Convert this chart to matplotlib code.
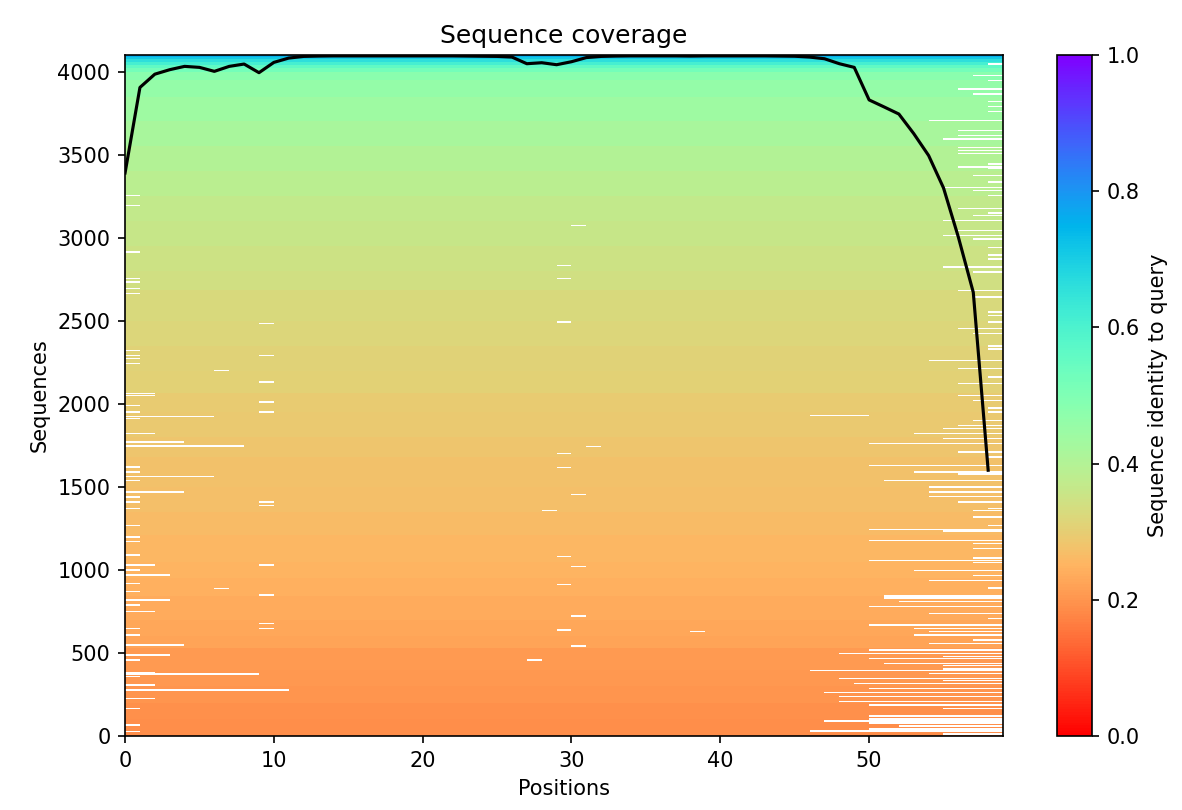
import numpy as np
import matplotlib
matplotlib.use("Agg")
import matplotlib.pyplot as plt

# number of aligned sequences and query length
n_seqs = 4100
n_pos = 59

# identity to query, per block of sorted sequences (block start, identity)
band_start = [0, 100, 200, 300, 400, 530, 600, 700, 840, 950, 1050, 1210, 1350,
              1500, 1680, 1800, 1950, 2065, 2200, 2350, 2500, 2685, 2800, 2950,
              3100, 3250, 3400, 3550, 3700, 3850, 3950, 4000, 4020, 4040, 4060,
              4075, 4088]
band_identity = [0.19, 0.195, 0.20, 0.205, 0.21, 0.225, 0.23, 0.235, 0.245, 0.25,
                 0.255, 0.265, 0.27, 0.275, 0.285, 0.29, 0.295, 0.305, 0.31, 0.32,
                 0.325, 0.34, 0.35, 0.36, 0.37, 0.385, 0.40, 0.42, 0.44, 0.46, 0.48,
                 0.52, 0.56, 0.61, 0.66, 0.71, 0.76]

# non-gap count per position (black line)
coverage = [3390, 3905, 3985, 4012, 4032, 4026, 4002, 4032, 4046, 3994,
            4056, 4082, 4092, 4094, 4095, 4095, 4095, 4095, 4095, 4095,
            4095, 4095, 4095, 4094, 4093, 4092, 4088, 4048, 4054, 4042,
            4060, 4085, 4092, 4094, 4095, 4095, 4095, 4095, 4094, 4095,
            4095, 4095, 4095, 4095, 4094, 4093, 4088, 4078, 4048, 4026,
            3830, 3788, 3745, 3627, 3495, 3300, 3003, 2671, 1600]

# leading gaps: (sequence, first aligned position)
lead_gaps = [(3254, 1), (3194, 1), (2914, 1), (2754, 1), (2734, 1), (2694, 1),
             (2664, 1), (2322, 1), (2292, 1), (2272, 1), (2242, 1), (2061, 2),
             (2051, 2), (1991, 1), (1951, 1), (1925, 6), (1911, 1), (1821, 2),
             (1771, 4), (1745, 8), (1620, 1), (1590, 1), (1564, 6), (1540, 1),
             (1469, 4), (1439, 1), (1409, 1), (1369, 1), (1269, 1), (1199, 1),
             (1169, 1), (1089, 1), (1029, 2), (999, 1), (969, 3), (918, 1),
             (868, 1), (818, 3), (788, 1), (748, 2), (648, 1), (608, 1),
             (548, 4), (488, 3), (457, 1), (380, 2), (374, 9), (357, 1),
             (307, 2), (277, 11), (227, 2), (167, 1), (67, 1), (27, 1)]

# internal gaps: (sequence, from position, to position)
inner_gaps = [(3074, 30, 31), (2833, 29, 30), (2753, 29, 30), (2492, 29, 30),
              (1744, 31, 32), (1700, 29, 30), (1616, 29, 30), (1455, 30, 31),
              (1359, 28, 29), (1082, 29, 30), (1019, 30, 31), (914, 29, 30),
              (722, 30, 31), (638, 29, 30), (628, 38, 39), (541, 30, 31),
              (457, 27, 28), (2482, 9, 10), (2292, 9, 10), (2131, 9, 10),
              (2011, 9, 10), (1951, 9, 10), (1409, 9, 10), (1389, 9, 10),
              (1029, 9, 10), (848, 9, 10), (678, 9, 10), (648, 9, 10),
              (2201, 6, 7), (890, 6, 7), (1931, 46, 50)]

# trailing gaps: (sequence, last aligned position, number of sequences)
tail_gaps = [(4046, 58, 8), (3976, 57, 8), (3946, 58, 8), (3896, 56, 8), (3866, 57, 8),
             (3820, 58, 10), (3790, 58, 10), (3760, 58, 10), (3705, 54, 8), (3645, 56, 8),
             (3615, 56, 8), (3595, 55, 8), (3545, 56, 8), (3525, 56, 8), (3505, 56, 8),
             (3445, 58, 14), (3420, 58, 10), (3425, 56, 8), (3375, 57, 8), (3334, 58, 12),
             (3304, 55, 8), (3284, 57, 8), (3254, 58, 8), (3150, 58, 12), (3174, 56, 8),
             (3134, 57, 8), (3104, 55, 8), (3044, 56, 8), (3013, 55, 8), (2993, 57, 8),
             (2943, 58, 8), (2895, 58, 12), (2870, 58, 10), (2823, 55, 8), (2793, 57, 8),
             (2683, 56, 10), (2643, 57, 10), (2550, 58, 12), (2530, 58, 8), (2493, 58, 10),
             (2453, 56, 8), (2422, 57, 8), (2350, 58, 12), (2330, 58, 8), (2262, 54, 8),
             (2212, 56, 8), (2162, 58, 10), (2122, 56, 8), (2051, 56, 8), (2021, 57, 8),
             (1975, 58, 12), (1950, 58, 12), (1901, 57, 8), (1871, 56, 8), (1851, 55, 8),
             (1821, 53, 8), (1791, 55, 8), (1761, 50, 8), (1710, 56, 8), (1680, 58, 10),
             (1630, 50, 8), (1590, 53, 8), (1580, 56, 12), (1540, 51, 8), (1500, 54, 8),
             (1470, 54, 8), (1440, 54, 8), (1409, 56, 10), (1369, 58, 10), (1359, 57, 8),
             (1319, 57, 8), (1269, 58, 8), (1243, 50, 8), (1235, 55, 10), (1179, 50, 8),
             (1159, 57, 8), (1129, 57, 8), (1058, 50, 8), (1070, 57, 12), (1045, 57, 10),
             (998, 53, 8), (968, 57, 8), (938, 54, 8), (890, 58, 12), (842, 51, 10),
             (830, 51, 8), (808, 52, 8), (778, 50, 8), (738, 54, 8), (708, 58, 8),
             (668, 50, 8), (648, 53, 8), (628, 54, 8), (608, 53, 8), (578, 57, 8),
             (558, 54, 8), (518, 50, 8), (498, 48, 8), (468, 50, 8), (478, 55, 10),
             (438, 51, 8), (425, 55, 10), (405, 55, 10), (393, 46, 8), (377, 54, 8),
             (347, 48, 8), (335, 55, 10), (317, 49, 8), (287, 50, 8), (261, 47, 8),
             (237, 48, 8), (207, 48, 8), (187, 50, 8), (167, 55, 8), (120, 50, 14),
             (100, 50, 12), (78, 50, 16), (58, 52, 12), (44, 50, 10), (90, 47, 8),
             (30, 46, 8), (12, 55, 8)]

# build the identity matrix, gaps are NaN
ident = np.zeros(n_seqs)
edges = band_start + [n_seqs]
for i in range(len(band_identity)):
    ident[edges[i]:edges[i + 1]] = band_identity[i]
msa = np.tile(ident[:, None], (1, n_pos))

th = 8
for s, p in lead_gaps:
    msa[s - th // 2:s + th // 2, 0:p] = np.nan
for s, a, b in inner_gaps:
    msa[s - th // 2:s + th // 2, a:b] = np.nan
for s, p, h in tail_gaps:
    msa[s - h // 2:s + h // 2, p:] = np.nan

fig = plt.figure(figsize=(7.88, 5.4), dpi=150)
ax = fig.add_axes([0.1058, 0.0914, 0.7428, 0.8406])
cax = fig.add_axes([0.894, 0.0914, 0.030, 0.8406])

im = ax.imshow(msa, interpolation='nearest', aspect='auto', cmap='rainbow_r',
               vmin=0, vmax=1, origin='lower', extent=(0, n_pos, 0, n_seqs))
ax.plot(np.arange(n_pos), coverage, color='black', lw=1.5)
ax.set_xlim(0, n_pos)
ax.set_ylim(0, n_seqs)
ax.set_yticks(np.arange(0, 4001, 500))
ax.set_title("Sequence coverage")
ax.set_xlabel("Positions")
ax.set_ylabel("Sequences")
fig.colorbar(im, cax=cax, label="Sequence identity to query")

fig.savefig("out.png", dpi=150)
